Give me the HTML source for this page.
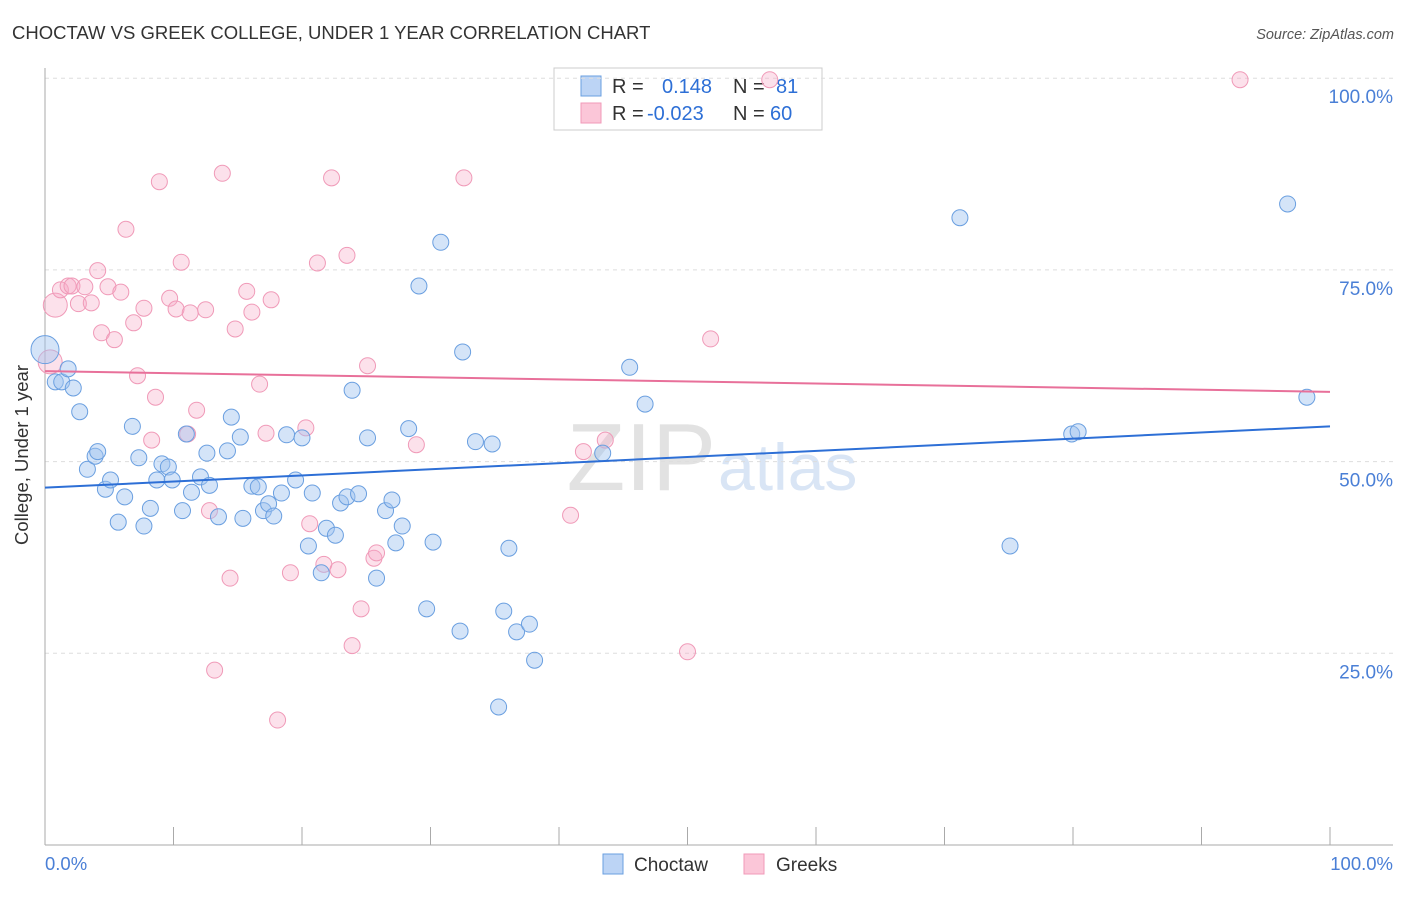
<!DOCTYPE html>
<html><head><meta charset="utf-8"><style>
body{margin:0;background:#fff;font-family:"Liberation Sans",sans-serif}
svg text{font-family:"Liberation Sans",sans-serif}
</style></head><body>
<svg id="c" width="1406" height="892" xmlns="http://www.w3.org/2000/svg">
<text x="12" y="39" font-size="18.5" fill="#333">CHOCTAW VS GREEK COLLEGE, UNDER 1 YEAR CORRELATION CHART</text>
<text x="1394" y="39" font-size="14.5" fill="#555" font-style="italic" text-anchor="end">Source: ZipAtlas.com</text>
<text x="716" y="490" font-size="96" fill="#e2e2e2" text-anchor="end" font-family="Liberation Serif">ZIP</text>
<text x="718" y="490" font-size="66" fill="#d9e5f5">atlas</text>
<g>
<rect x="554" y="68" width="268" height="62" fill="#fff" stroke="#ccc"/>
<rect x="581" y="76" width="20" height="20" fill="#bcd4f5" stroke="#6a9fe0"/>
<rect x="581" y="103" width="20" height="20" fill="#fbc6d8" stroke="#f09ab8"/>
<text x="612" y="93" font-size="20" fill="#333">R =</text><text x="662" y="93" font-size="20" fill="#2d6fd6">0.148</text>
<text x="733" y="93" font-size="20" fill="#333">N =</text><text x="776" y="93" font-size="20" fill="#2d6fd6">81</text>
<text x="612" y="120" font-size="20" fill="#333">R =</text><text x="647" y="120" font-size="20" fill="#2d6fd6">-0.023</text>
<text x="733" y="120" font-size="20" fill="#333">N =</text><text x="770" y="120" font-size="20" fill="#2d6fd6">60</text>
</g>
<g id="grid"></g>
<g id="axes"></g>
<g id="pts"></g>
<g id="lines"></g>
<text x="28" y="455" font-size="18.5" fill="#333" text-anchor="middle" transform="rotate(-90 28 455)">College, Under 1 year</text>
<text x="45" y="870" font-size="18.5" fill="#4a7fd6">0.0%</text>
<text x="1393" y="870" font-size="18.5" fill="#4a7fd6" text-anchor="end">100.0%</text>
<g>
<rect x="603" y="854" width="20" height="20" fill="#bcd4f5" stroke="#6a9fe0"/>
<text x="634" y="871" font-size="19" fill="#333">Choctaw</text>
<rect x="744" y="854" width="20" height="20" fill="#fbc6d8" stroke="#f09ab8"/>
<text x="776" y="871" font-size="19" fill="#333">Greeks</text>
</g>
</svg>
<script>
const yTicks=[25,50,75,100];
const yTickLabels=["25.0%","50.0%","75.0%","100.0%"];
const blueX=[0,0.8,1.3,1.8,2.2,2.7,3.3,3.9,4.1,4.7,5.1,5.7,6.2,6.8,7.3,7.7,8.2,9.1,9.6,8.7,9.9,10.7,11.0,11.4,12.1,12.6,12.8,13.5,14.2,14.5,15.2,15.4,16.1,16.6,17.0,17.4,17.8,18.4,18.8,19.5,20.0,20.5,20.8,21.5,21.9,22.6,23.0,23.5,24.4,23.9,25.1,25.8,26.5,27.0,27.3,27.8,28.3,29.1,29.7,30.2,30.8,32.3,32.5,33.5,34.8,35.3,35.7,36.1,36.7,37.7,38.1,43.4,45.5,46.7,71.2,75.1,79.9,80.4,96.7,98.2];
const blueY=[64.6,60.4,60.4,62.1,59.6,56.5,49.0,50.7,51.3,46.4,47.6,42.1,45.4,54.6,50.5,41.6,43.9,49.7,49.3,47.6,47.6,43.6,53.6,46.0,48.0,51.1,46.9,42.8,51.4,55.8,53.2,42.6,46.8,46.7,43.6,44.5,42.9,45.9,53.5,47.6,53.1,39.0,45.9,35.5,41.3,40.4,44.6,45.4,45.8,59.3,53.1,34.8,43.6,45.0,39.4,41.6,54.3,72.9,30.8,39.5,78.6,27.9,64.3,52.6,52.3,18.0,30.5,38.7,27.8,28.8,24.1,51.1,62.3,57.5,81.8,39.0,53.6,53.9,83.6,58.4];
const pinkX=[0.8,0.4,1.2,1.8,2.1,2.6,3.1,3.6,4.1,4.4,4.9,5.4,5.9,6.3,6.9,7.2,7.7,8.3,8.6,8.9,9.7,10.2,10.6,11.1,11.3,11.8,12.5,12.8,13.2,13.8,14.4,14.8,15.7,16.1,16.7,17.2,17.6,18.1,19.1,20.3,20.6,21.2,21.7,22.3,22.8,23.5,23.9,24.6,25.1,25.6,25.8,28.9,32.6,40.9,41.9,43.6,50.0,51.8,56.4,93.0];
const pinkY=[70.4,63.0,72.4,72.9,72.9,70.6,72.8,70.7,74.9,66.8,72.8,65.9,72.1,80.3,68.1,61.2,70.0,52.8,58.4,86.5,71.3,69.9,76.0,53.6,69.4,56.7,69.8,43.6,22.8,87.6,34.8,67.3,72.2,69.5,60.1,53.7,71.1,16.3,35.5,54.4,41.9,75.9,36.6,87.0,35.9,76.9,26.0,30.8,62.5,37.4,38.1,52.2,87.0,43.0,51.3,52.8,25.2,66.0,99.8,99.8];
const blueTrend=[46.6,54.6];
const pinkTrend=[61.8,59.1];
const X=v=>45+v*12.85, Y=v=>845-v*7.668;
const NS="http://www.w3.org/2000/svg";
function mk(t,a,p){const e=document.createElementNS(NS,t);for(const k in a)e.setAttribute(k,a[k]);p.appendChild(e);return e;}
const grid=document.getElementById('grid'),axes=document.getElementById('axes'),pts=document.getElementById('pts'),lines=document.getElementById('lines');
yTicks.forEach((v,i)=>{
 const l=mk('line',{x1:45,x2:1393,y1:Y(v),y2:Y(v),stroke:'#ddd','stroke-dasharray':'4,4'},grid);
 
 
 const t=mk('text',{x:1393,y:Y(v)+25,'font-size':19,fill:'#4a7fd6','text-anchor':'end'},axes);
 t.textContent=yTickLabels[i];
 
 
});
const ax=mk('line',{x1:45,x2:1393,y1:845,y2:845,stroke:'#aaa'},axes);


const ay=mk('line',{x1:45,x2:45,y1:68,y2:845,stroke:'#aaa'},axes);


for(let i=1;i<=10;i++){
 const tk=mk('line',{x1:X(i*10),x2:X(i*10),y1:827,y2:845,stroke:'#aaa'},axes);
 
 
}
function dots(xs,ys,fill,stroke,name){
 xs.forEach((x,i)=>{
  const r=(x<1&&ys[i]>62)?(name==='choctaw-point'?14:12):8;
  const c=mk('circle',{cx:X(x),cy:Y(ys[i]),r:r,fill:fill,stroke:stroke,'stroke-width':1},pts);
  
  
 });
}
dots(pinkX,pinkY,'rgba(245,170,198,0.35)','#f09ab8','greeks-point');
dots(blueX,blueY,'rgba(160,195,240,0.45)','#6a9fe0','choctaw-point');
const bl=mk('line',{x1:X(0),x2:X(100),y1:Y(blueTrend[0]),y2:Y(blueTrend[1]),stroke:'#2d6fd6','stroke-width':2},lines);


const pl=mk('line',{x1:X(0),x2:X(100),y1:Y(pinkTrend[0]),y2:Y(pinkTrend[1]),stroke:'#e8709a','stroke-width':2},lines);


</script>
</body></html>
